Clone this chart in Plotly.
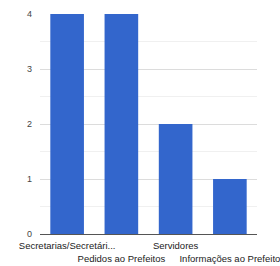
import plotly.graph_objects as go

categories = ["Secretarias/Secretári...", "Pedidos ao Prefeitos", "Servidores", "Informações ao Prefeito"]
values = [4, 4, 2, 1]
y_ticks = [0, 1, 2, 3, 4]

ticktext = [c if i % 2 == 0 else "<br>" + c for i, c in enumerate(categories)]

fig = go.Figure(go.Bar(x=categories, y=values, marker=dict(color="#3366cc", line=dict(width=0))))
fig.update_layout(
    width=280, height=266,
    margin=dict(l=40, r=23, t=14, b=32),
    paper_bgcolor="white", plot_bgcolor="white",
    bargap=0.38,
    showlegend=False,
    font=dict(family="Liberation Sans, Arial", size=9.5, color="#222"),
)
fig.update_xaxes(
    tickmode="array", tickvals=categories, ticktext=ticktext,
    tickfont=dict(size=9.5, color="#222"), tickangle=0, automargin=False,
    showline=True, linecolor="#555", linewidth=1,
    showgrid=False, ticks="", ticklabelstandoff=3,
)
fig.update_yaxes(
    range=[0, 4], tickvals=y_ticks, ticktext=[str(v) for v in y_ticks],
    tickfont=dict(size=9, color="#444"), automargin=False,
    showgrid=True, gridcolor="#dcdcdc", gridwidth=1,
    minor=dict(dtick=0.5, showgrid=True, gridcolor="#f0f0f0"),
    zeroline=False, ticks="", ticklen=0, ticklabelstandoff=7,
)
fig.write_html("out.html", config={"displayModeBar": False},
               post_script="document.body.style.margin='0';document.body.style.padding='0';")
